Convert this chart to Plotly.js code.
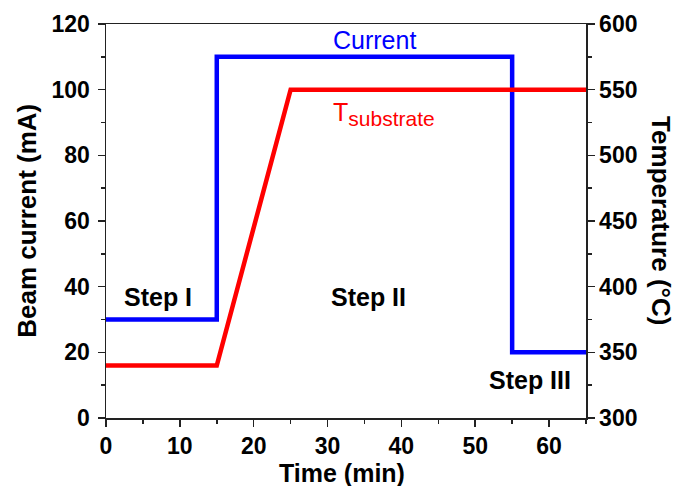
<!DOCTYPE html>
<html>
<head>
<meta charset="utf-8">
<script src="https://cdn.plot.ly/plotly-3.0.1.min.js"></script>
<style>html,body{margin:0;padding:0;background:#fff;}#chart{width:686px;height:486px;}</style>
</head>
<body>
<div id="chart"></div>
<script>
// Data
const timeCurrent = [0, 15, 15, 55, 55, 65];
const beamCurrent = [30, 30, 110, 110, 20, 20];
const timeTemp = [0, 15, 25, 65];
const substrateTemp = [340, 340, 550, 550];
const xTicks = [0, 10, 20, 30, 40, 50, 60];
const yTicks = [0, 20, 40, 60, 80, 100, 120];
const y2Ticks = [300, 350, 400, 450, 500, 550, 600];

const FONT = '"Liberation Sans", Arial, sans-serif';
const AX = '#222';

const traces = [
  {x: timeCurrent, y: beamCurrent, type: 'scatter', mode: 'lines',
   line: {color: '#0000ff', width: 4.5}, yaxis: 'y', name: 'Current', hoverinfo: 'skip'},
  {x: timeTemp, y: substrateTemp, type: 'scatter', mode: 'lines',
   line: {color: '#ff0000', width: 4.5}, yaxis: 'y2', name: 'T', hoverinfo: 'skip'}
];

const tickFont = {family: FONT, size: 23, color: '#000', weight: 'bold'};

const layout = {
  width: 686, height: 486,
  margin: {l: 106, r: 100, t: 24, b: 68},
  paper_bgcolor: '#fff', plot_bgcolor: '#fff',
  showlegend: false,
  xaxis: {
    range: [0, 65], tickvals: xTicks, ticktext: xTicks.map(String),
    showgrid: false, zeroline: false, showline: true, linecolor: AX, linewidth: 1.5,
    mirror: true, ticks: 'outside', ticklen: 7, tickwidth: 1.5, tickcolor: AX,
    tickfont: tickFont, ticklabelstandoff: 0,
    minor: {dtick: 5, tick0: 0, ticks: 'outside', ticklen: 4, tickwidth: 1.5, tickcolor: AX, showgrid: false}
  },
  yaxis: {
    range: [0, 120], tickvals: yTicks, ticktext: yTicks.map(String),
    showgrid: false, zeroline: false, showline: true, linecolor: AX, linewidth: 1.5,
    ticks: 'outside', ticklen: 7, tickwidth: 1.5, tickcolor: AX,
    tickfont: tickFont, ticklabelstandoff: 3,
    minor: {dtick: 10, tick0: 0, ticks: 'outside', ticklen: 4, tickwidth: 1.5, tickcolor: AX, showgrid: false}
  },
  yaxis2: {
    overlaying: 'y', side: 'right', anchor: 'x',
    range: [300, 600], tickvals: y2Ticks, ticktext: y2Ticks.map(String),
    showgrid: false, zeroline: false, showline: true, linecolor: AX, linewidth: 1.5,
    ticks: 'outside', ticklen: 7, tickwidth: 1.5, tickcolor: AX,
    tickfont: tickFont, ticklabelstandoff: 0,
    minor: {dtick: 25, tick0: 300, ticks: 'outside', ticklen: 4, tickwidth: 1.5, tickcolor: AX, showgrid: false}
  },
  annotations: [
    {text: 'Beam current (mA)', xref: 'paper', yref: 'paper', x: -0.165, y: 0.5,
     xanchor: 'center', yanchor: 'middle', textangle: -90, showarrow: false,
     font: {family: FONT, size: 26, color: '#000', weight: 'bold'}},
    {text: 'Temperature (°C)', xref: 'paper', yref: 'paper', x: 1.156, y: 0.5,
     xanchor: 'center', yanchor: 'middle', textangle: 90, showarrow: false,
     font: {family: FONT, size: 26, color: '#000', weight: 'bold'}},
    {text: 'Time (min)', xref: 'paper', yref: 'paper', x: 0.491, y: -0.14,
     xanchor: 'center', yanchor: 'middle', showarrow: false,
     font: {family: FONT, size: 25, color: '#000', weight: 'bold'}},
    {text: 'Current', xref: 'x', yref: 'y', x: 36.4, y: 115.1,
     xanchor: 'center', yanchor: 'middle', showarrow: false,
     font: {family: FONT, size: 25, color: '#0000ff'}},
    {text: 'T<sub><span style="font-size:21px">substrate</span></sub>', xref: 'x', yref: 'y', x: 37.7, y: 92.5,
     xanchor: 'center', yanchor: 'middle', showarrow: false,
     font: {family: FONT, size: 25, color: '#ff0000'}},
    {text: 'Step I', xref: 'x', yref: 'y', x: 7.1, y: 36.9,
     xanchor: 'center', yanchor: 'middle', showarrow: false,
     font: {family: FONT, size: 25, color: '#000', weight: 'bold'}},
    {text: 'Step II', xref: 'x', yref: 'y', x: 35.5, y: 36.9,
     xanchor: 'center', yanchor: 'middle', showarrow: false,
     font: {family: FONT, size: 25, color: '#000', weight: 'bold'}},
    {text: 'Step III', xref: 'x', yref: 'y', x: 57.4, y: 11.6,
     xanchor: 'center', yanchor: 'middle', showarrow: false,
     font: {family: FONT, size: 25, color: '#000', weight: 'bold'}}
  ]
};

Plotly.newPlot('chart', traces, layout, {staticPlot: true, displayModeBar: false});
</script>
</body>
</html>
